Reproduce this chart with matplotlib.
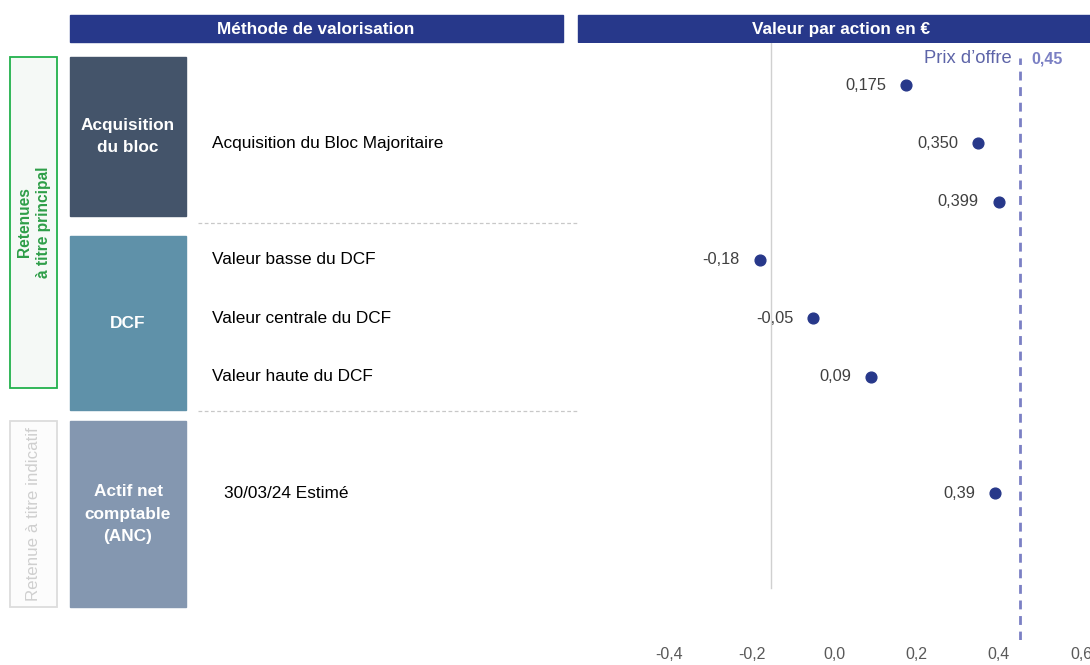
import matplotlib.pyplot as plt
from matplotlib.patches import Rectangle

plt.rcParams['font.family'] = ['Liberation Sans', 'DejaVu Sans']

# donnees
libelles = ["", "Acquisition du Bloc Majoritaire", "",
            "Valeur basse du DCF", "Valeur centrale du DCF", "Valeur haute du DCF",
            "", "30/03/24 Estimé"]
valeurs = [0.175, 0.350, 0.399, -0.18, -0.05, 0.09, None, 0.39]
etiquettes = ["0,175", "0,350", "0,399", "-0,18", "-0,05", "0,09", None, "0,39"]
prix_offre = 0.45
ticks = [-0.4, -0.2, 0.0, 0.2, 0.4, 0.6]
tick_labels = ["-0,4", "-0,2", "0,0", "0,2", "0,4", "0,6"]
ligne_ref = -0.153

blocs = ["Acquisition\ndu bloc", "DCF", "Actif net\ncomptable\n(ANC)"]
couleurs_blocs = ["#44546a", "#5f91a9", "#8497b0"]

W, H = 1090, 665
fig = plt.figure(figsize=(W / 100, H / 100), dpi=100)

# fond en pixels pour la mise en page
bg = fig.add_axes([0, 0, 1, 1])
bg.set_xlim(0, W)
bg.set_ylim(H, 0)
bg.axis("off")

navy = "#27388a"
bg.add_patch(Rectangle((70, 15), 493, 27, color=navy))
bg.add_patch(Rectangle((578, 15), 520, 27, color=navy))
bg.text(316, 29.5, "Méthode de valorisation", color="white", fontsize=12.4,
        fontweight="bold", ha="center", va="center")
bg.text(841, 29.5, "Valeur par action en €", color="white", fontsize=12.4,
        fontweight="bold", ha="center", va="center")

# encadres a gauche
bg.add_patch(Rectangle((10, 57), 47, 331, facecolor="#f5f9f6", edgecolor="#22b14c", lw=1.3))
bg.text(34, 222, "Retenues\nà titre principal", color="#2e9e48", fontsize=11.2,
        fontweight="bold", rotation=90, ha="center", va="center", linespacing=1.3)
bg.add_patch(Rectangle((10, 421), 47, 186, facecolor="#fcfcfc", edgecolor="#dcdcdc", lw=1.3))
bg.text(34, 514, "Retenue à titre indicatif", color="#cfcfcf", fontsize=12.2,
        rotation=90, ha="center", va="center")

boites = [(57, 159), (236, 174), (421, 186)]
for (y0, h), txt, c in zip(boites, blocs, couleurs_blocs):
    bg.add_patch(Rectangle((70, y0), 116, h, color=c))
    bg.text(128, y0 + h / 2, txt, color="white", fontsize=12.4, fontweight="bold",
            ha="center", va="center", linespacing=1.6)

# graphique
top, bottom = 43, 640
ax = fig.add_axes([578 / W, 1 - bottom / H, (W - 578) / W, (bottom - top) / H])
x0, ppu = 834, 412.5
ax.set_xlim((578 - x0) / ppu, (W - x0) / ppu)
y_first, pas = 85, 58.3
ax.set_ylim((bottom - y_first) / pas, (top - y_first) / pas)
for s in ax.spines.values():
    s.set_visible(False)
ax.set_yticks([])
ax.set_xticks(ticks)
ax.set_xticklabels(tick_labels, fontsize=11.5, color="#595959")
ax.tick_params(axis="x", length=0, pad=5)

for sep in [2.36, 5.6]:
    bg.axhline(y_first + sep * pas, xmin=198 / W, xmax=1, color="#c8c8c8",
               lw=0.9, ls=(0, (3, 2)))

ax.axvline(ligne_ref, ymin=(bottom - 588) / (bottom - top), ymax=1, color="#d0d0d0", lw=1)
ax.axvline(prix_offre, ymin=0, ymax=(bottom - 58) / (bottom - top), color="#7b80c4",
           lw=2, ls=(0, (3.2, 2.4)))
ax.text(prix_offre - 0.02, -0.45, "Prix d’offre", color="#5d64a8", fontsize=13.2,
        ha="right", va="center")
ax.text(prix_offre + 0.028, -0.45, "0,45", color="#7b80c4", fontsize=11.5,
        fontweight="bold", ha="left", va="center")

for i, (lab, v, e) in enumerate(zip(libelles, valeurs, etiquettes)):
    if lab:
        xl = 212 if i != 7 else 224
        bg.text(xl, y_first + i * pas, lab, fontsize=12.4, color="black",
                ha="left", va="center")
    if v is None:
        continue
    ax.scatter(v, i, s=60, color=navy, zorder=3)
    ax.text(v - 0.048, i, e, fontsize=11.8, color="#404040", ha="right", va="center")

fig.savefig("out.png", dpi=100)
